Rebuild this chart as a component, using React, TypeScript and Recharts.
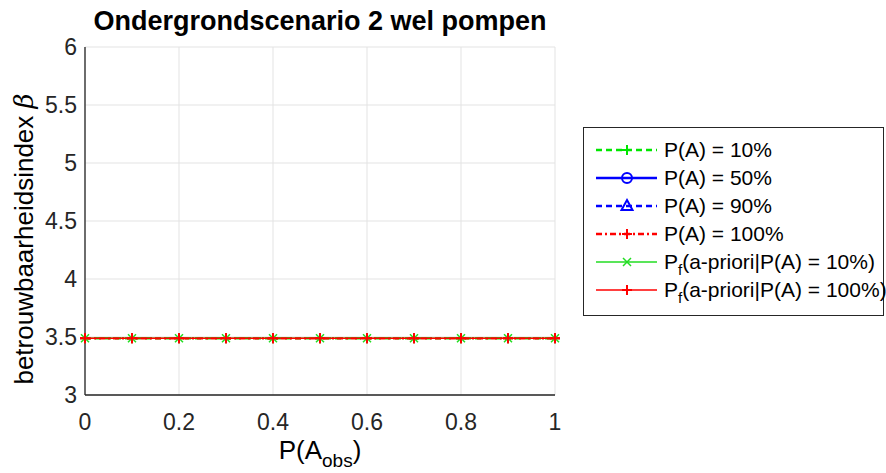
import { LineChart, Line, XAxis, YAxis, CartesianGrid } from 'recharts';

// P(A_obs) values along the x axis
const pObs = [0, 0.1, 0.2, 0.3, 0.4, 0.5, 0.6, 0.7, 0.8, 0.9, 1];

// reliability index beta per series (all coincide in this scenario)
const betaPA10 = [3.49, 3.49, 3.49, 3.49, 3.49, 3.49, 3.49, 3.49, 3.49, 3.49, 3.49];
const betaPA50 = [null, null, null, null, null, null, null, null, null, null, null];
const betaPA90 = [null, null, null, null, null, null, null, null, null, null, null];
const betaPA100 = [3.49, 3.49, 3.49, 3.49, 3.49, 3.49, 3.49, 3.49, 3.49, 3.49, 3.49];
const betaPf10 = [3.49, 3.49, 3.49, 3.49, 3.49, 3.49, 3.49, 3.49, 3.49, 3.49, 3.49];
const betaPf100 = [3.49, 3.49, 3.49, 3.49, 3.49, 3.49, 3.49, 3.49, 3.49, 3.49, 3.49];

const xTicks = [0, 0.2, 0.4, 0.6, 0.8, 1];
const yTicks = [3, 3.5, 4, 4.5, 5, 5.5, 6];

const data = pObs.map((x, i) => ({
  x,
  pa10: betaPA10[i],
  pa50: betaPA50[i],
  pa90: betaPA90[i],
  pa100: betaPA100[i],
  pf10: betaPf10[i],
  pf100: betaPf100[i],
}));

const FONT = '"Liberation Sans", Arial, Helvetica, sans-serif';
const AXIS = '#262626';
const GREEN = '#00e600';
const GREEN2 = '#22dd22';
const BLUE = '#0000ff';
const RED = '#ff0000';

type MarkerKind = 'plus' | 'cross' | 'circle' | 'triangle';

function markerShape(kind: MarkerKind, cx: number, cy: number, color: string, key?: any) {
  if (kind === 'plus') {
    const s = 5;
    return <path key={key} d={`M${cx - s},${cy}H${cx + s}M${cx},${cy - s}V${cy + s}`} stroke={color} strokeWidth={2} fill="none" />;
  }
  if (kind === 'cross') {
    const s = 4;
    return <path key={key} d={`M${cx - s},${cy - s}L${cx + s},${cy + s}M${cx - s},${cy + s}L${cx + s},${cy - s}`} stroke={color} strokeWidth={1.5} fill="none" />;
  }
  if (kind === 'circle') {
    return <circle key={key} cx={cx} cy={cy} r={5} stroke={color} strokeWidth={2} fill="none" />;
  }
  return <path key={key} d={`M${cx},${cy - 6}L${cx + 5.5},${cy + 4}L${cx - 5.5},${cy + 4}Z`} stroke={color} strokeWidth={2} fill="none" />;
}

const dotOf = (kind: MarkerKind, color: string) => (props: any) => {
  const { cx, cy, index } = props;
  if (cx == null || cy == null) return <g key={`e-${index}`} />;
  return markerShape(kind, cx, cy, color, `m-${index}`);
};

const legendItems = [
  { label: 'P(A) = 10%', color: GREEN, dash: '6 4', width: 2.5, marker: 'plus' as MarkerKind },
  { label: 'P(A) = 50%', color: BLUE, dash: undefined, width: 2.5, marker: 'circle' as MarkerKind },
  { label: 'P(A) = 90%', color: BLUE, dash: '6 4', width: 2.5, marker: 'triangle' as MarkerKind },
  { label: 'P(A) = 100%', color: RED, dash: '6 3 2 3', width: 2.5, marker: 'plus' as MarkerKind },
  { label: 'f10', color: GREEN2, dash: undefined, width: 1.5, marker: 'cross' as MarkerKind },
  { label: 'f100', color: RED, dash: undefined, width: 1.5, marker: 'plus' as MarkerKind },
];

function LegendLabel({ label }: { label: string }) {
  if (label === 'f10' || label === 'f100') {
    const pct = label === 'f10' ? '10%' : '100%';
    return (
      <span>
        P<sub style={{ fontSize: 15, verticalAlign: -6, lineHeight: 0 }}>f</sub>(a-priori|P(A) = {pct})
      </span>
    );
  }
  return <span>{label}</span>;
}

function LegendBox() {
  return (
    <div
      style={{
        position: 'absolute',
        left: 583,
        top: 127,
        width: 299,
        height: 179,
        border: `1px solid ${AXIS}`,
        background: '#fff',
        paddingTop: 8,
        fontFamily: FONT,
        fontSize: 21,
        color: '#000',
      }}
    >
      {legendItems.map((it, i) => (
        <div key={i} style={{ display: 'flex', alignItems: 'center', height: 28, whiteSpace: 'nowrap' }}>
          <svg width={80} height={28} style={{ flex: 'none' }}>
            <line x1={12} x2={73} y1={14} y2={14} stroke={it.color} strokeWidth={it.width} strokeDasharray={it.dash} />
            {markerShape(it.marker, 43, 14, it.color)}
          </svg>
          <LegendLabel label={it.label} />
        </div>
      ))}
    </div>
  );
}

function XLabel(props: any) {
  const vb = props.viewBox || { x: 85, y: 395, width: 470 };
  const cx = vb.x + vb.width / 2;
  return (
    <text x={cx} y={459} textAnchor="middle" fontFamily={FONT} fontSize={26} fill="#000">
      P(A
      <tspan dy={8} fontSize={19}>obs</tspan>
      <tspan dy={-8}>)</tspan>
    </text>
  );
}

function YLabel() {
  return (
    <text transform="translate(33, 239) rotate(-90)" x={0} y={0} textAnchor="middle" fontFamily={FONT} fontSize={26} fill="#000">
      betrouwbaarheidsindex <tspan fontStyle="italic" fontFamily="'DejaVu Serif', serif">β</tspan>
    </text>
  );
}

export default function App() {
  const tickStyle = { fontFamily: FONT, fontSize: 23, fill: '#262626' };
  return (
    <div style={{ position: 'absolute', left: 0, top: 0, width: 886, height: 473, background: '#fff' }}>
      <div
        style={{
          position: 'absolute',
          left: 85,
          width: 470,
          top: 6,
          lineHeight: '30px',
          textAlign: 'center',
          fontFamily: FONT,
          fontSize: 27,
          fontWeight: 'bold',
          color: '#000',
          zIndex: 2,
        }}
      >
        Ondergrondscenario 2 wel pompen
      </div>
      <LineChart width={886} height={473} data={data} margin={{ top: 47, right: 331, left: 0, bottom: 0 }}>
        <CartesianGrid stroke="#e3e3e3" strokeWidth={1} />
        {/* inward tick marks along the bottom edge */}
        <XAxis xAxisId="bin" orientation="bottom" mirror dataKey="x" type="number" domain={[0, 1]} ticks={xTicks} interval={0} tick={false} tickSize={5} height={0} axisLine={false} stroke={AXIS} />
        <XAxis
          dataKey="x"
          type="number"
          domain={[0, 1]}
          ticks={xTicks}
          interval={0}
          tickFormatter={(v) => String(v)}
          height={78}
          tickSize={0}
          tickMargin={19}
          tickLine={false}
          stroke={AXIS}
          strokeWidth={1.3}
          tick={tickStyle}
          label={<XLabel />}
        />
        <XAxis xAxisId="top" orientation="top" mirror dataKey="x" type="number" domain={[0, 1]} ticks={xTicks} interval={0} tick={false} tickSize={5} height={0} stroke={AXIS} strokeWidth={1.3} />
        {/* inward tick marks along the left edge */}
        <YAxis yAxisId="lin" orientation="left" mirror type="number" domain={[3, 6]} ticks={yTicks} interval={0} tick={false} tickSize={5} width={0} axisLine={false} stroke={AXIS} />
        <YAxis
          type="number"
          domain={[3, 6]}
          ticks={yTicks}
          interval={0}
          tickFormatter={(v) => String(v)}
          width={85}
          tickSize={0}
          tickMargin={8}
          tickLine={false}
          stroke={AXIS}
          strokeWidth={1.3}
          tick={tickStyle}
          label={<YLabel />}
        />
        <YAxis yAxisId="right" orientation="right" mirror type="number" domain={[3, 6]} ticks={yTicks} interval={0} tick={false} tickSize={5} width={0} stroke={AXIS} strokeWidth={1.3} />
        <Line dataKey="pa10" stroke={GREEN} strokeWidth={2.5} strokeDasharray="6 4" dot={dotOf('plus', GREEN)} isAnimationActive={false} />
        <Line dataKey="pa50" stroke={BLUE} strokeWidth={2.5} dot={dotOf('circle', BLUE)} isAnimationActive={false} />
        <Line dataKey="pa90" stroke={BLUE} strokeWidth={2.5} strokeDasharray="6 4" dot={dotOf('triangle', BLUE)} isAnimationActive={false} />
        <Line dataKey="pa100" stroke={RED} strokeWidth={2.5} strokeDasharray="6 3 2 3" dot={dotOf('plus', RED)} isAnimationActive={false} />
        <Line dataKey="pf10" stroke={GREEN2} strokeWidth={1.5} dot={dotOf('cross', GREEN2)} isAnimationActive={false} />
        <Line dataKey="pf100" stroke={RED} strokeWidth={1.5} dot={dotOf('plus', RED)} isAnimationActive={false} />
      </LineChart>
      <LegendBox />
    </div>
  );
}
